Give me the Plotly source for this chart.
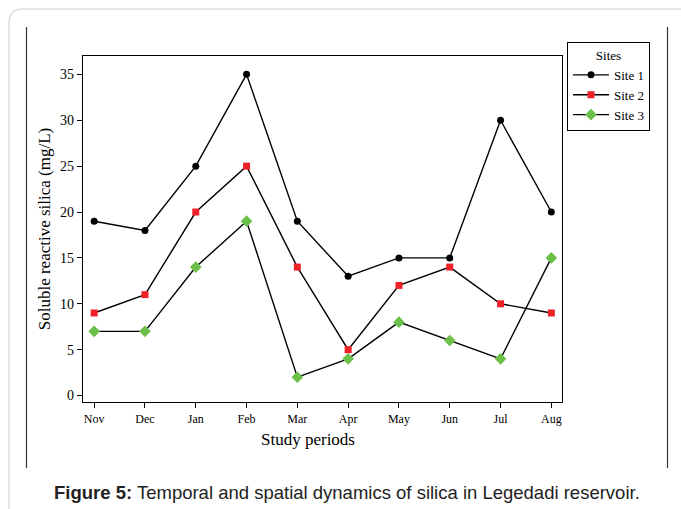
import plotly.graph_objects as go

months = ["Nov", "Dec", "Jan", "Feb", "Mar", "Apr", "May", "Jun", "Jul", "Aug"]
site1 = [19, 18, 25, 35, 19, 13, 15, 15, 30, 20]
site2 = [9, 11, 20, 25, 14, 5, 12, 14, 10, 9]
site3 = [7, 7, 14, 19, 2, 4, 8, 6, 4, 15]
y_ticks = [0, 5, 10, 15, 20, 25, 30, 35]

serif = "Liberation Serif, Times New Roman, serif"
x_idx = list(range(len(months)))

fig = go.Figure()
fig.add_trace(go.Scatter(x=x_idx, y=site1, name="Site 1", mode="lines+markers",
                         line=dict(color="black", width=1.4),
                         marker=dict(symbol="circle", size=7, color="black")))
fig.add_trace(go.Scatter(x=x_idx, y=site2, name="Site 2", mode="lines+markers",
                         line=dict(color="black", width=1.4),
                         marker=dict(symbol="square", size=7, color="#EE2028")))
fig.add_trace(go.Scatter(x=x_idx, y=site3, name="Site 3", mode="lines+markers",
                         line=dict(color="black", width=1.4),
                         marker=dict(symbol="diamond", size=9, color="#6CC04A")))

fig.update_layout(
    width=681, height=509,
    margin=dict(l=83, r=119, t=56, b=107),
    paper_bgcolor="white", plot_bgcolor="white",
    font=dict(family=serif, color="black", size=13),
    showlegend=True,
    legend=dict(x=1.0104, y=1.0405, xanchor="left", yanchor="top",
                bordercolor="black", borderwidth=1, bgcolor="white",
                font=dict(family=serif, size=13),
                title=dict(text="Sites", side="top center", font=dict(family=serif, size=13)),
                tracegroupgap=0, itemwidth=36,
                entrywidth=50, entrywidthmode="pixels"),
    xaxis=dict(range=[-0.22, 9.21], tickmode="array", tickvals=x_idx, ticktext=months,
               showgrid=False, zeroline=False, showline=True, mirror=True,
               linecolor="black", linewidth=1.3, ticks="outside", ticklen=5,
               tickwidth=1.2, tickcolor="black", tickfont=dict(family=serif, size=12)),
    yaxis=dict(range=[-0.7, 37.0], tickmode="array", tickvals=y_ticks,
               showgrid=False, zeroline=False, showline=True, mirror=True,
               linecolor="black", linewidth=1.3, ticks="outside", ticklen=5,
               tickwidth=1.2, tickcolor="black", tickfont=dict(family=serif, size=14),
               title=dict(text="Soluble reactive silica (mg/L)", font=dict(family=serif, size=17),
                          standoff=5)),
)

# x-axis title as annotation (offset slightly left as in reference)
fig.add_annotation(text="Study periods", xref="paper", yref="paper",
                   x=(308 - 83) / 479, y=-(439 - 402) / 346, xanchor="center", yanchor="middle",
                   showarrow=False, font=dict(family=serif, size=17, color="black"))

# caption
fig.add_annotation(text="<b>Figure 5:</b> Temporal and spatial dynamics of silica in Legedadi reservoir.",
                   xref="paper", yref="paper",
                   x=(347 - 83) / 479, y=-(492 - 402) / 346, xanchor="center", yanchor="middle",
                   showarrow=False,
                   font=dict(family="Liberation Sans, Arial, sans-serif", size=18.5, color="#222222"))

# page decorations: outer light rounded border and black vertical frame lines
def px_x(p):
    return (p - 83) / 479

def px_y(p):
    return (402 - p) / 346

fig.add_shape(type="path", xref="paper", yref="paper",
              path=f"M {px_x(9)} {px_y(509)} L {px_x(9)} {px_y(23)} Q {px_x(9)} {px_y(9)} {px_x(23)} {px_y(9)} L {px_x(681)} {px_y(9)}",
              line=dict(color="#DDDDDD", width=1.5))
fig.add_shape(type="line", xref="paper", yref="paper",
              x0=px_x(26.5), x1=px_x(26.5), y0=px_y(27), y1=px_y(468),
              line=dict(color="#333333", width=1.2))
fig.add_shape(type="line", xref="paper", yref="paper",
              x0=px_x(667.5), x1=px_x(667.5), y0=px_y(27), y1=px_y(468),
              line=dict(color="#333333", width=1.2))

fig.write_html("out.html")
